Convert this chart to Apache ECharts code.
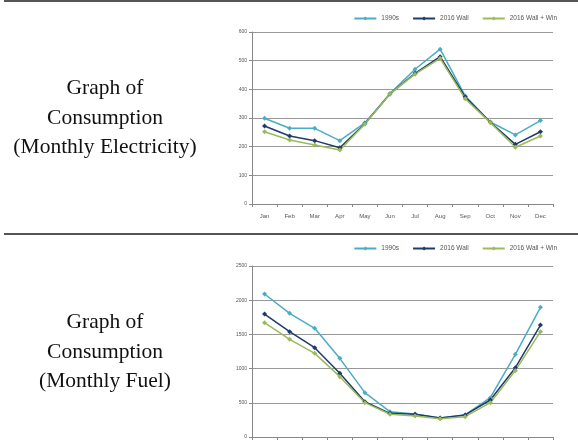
<!DOCTYPE html>
<html>
<head>
<meta charset="utf-8">
<script src="https://cdn.jsdelivr.net/npm/echarts@6/dist/echarts.min.js"></script>
<style>
  html, body { margin: 0; padding: 0; background: #fff; }
  #chart { width: 578px; height: 445px; }
</style>
</head>
<body>
<div id="chart"></div>
<script>
const months = ['Jan', 'Feb', 'Mar', 'Apr', 'May', 'Jun', 'Jul', 'Aug', 'Sep', 'Oct', 'Nov', 'Dec']
const seriesNames = ['1990s', '2016 Wall', '2016 Wall + Win']

// monthly electricity
const elec1990s = [299, 264, 264, 221, 283, 385, 470, 540, 377, 286, 241, 291]
const elecWall = [272, 237, 221, 196, 280, 384, 456, 514, 374, 285, 208, 252]
const elecWallWin = [252, 223, 206, 188, 279, 384, 453, 508, 367, 284, 198, 237]

// monthly fuel
const fuel1990s = [2091, 1808, 1589, 1150, 648, 370, 336, 278, 322, 575, 1209, 1896]
const fuelWall = [1798, 1540, 1306, 931, 516, 346, 332, 278, 322, 541, 1013, 1637]
const fuelWallWin = [1671, 1428, 1223, 882, 502, 332, 307, 268, 297, 502, 970, 1540]

const colors = ['#4bacc6', '#1f3a6b', '#9bbb59']

const chart = echarts.init(document.getElementById('chart'))

const xAxisBase = (gridIndex) => ({
  type: 'category',
  gridIndex: gridIndex,
  data: months,
  boundaryGap: true,
  axisLine: { lineStyle: { color: '#888', width: 1 } },
  axisTick: { show: true, length: 3, lineStyle: { color: '#888' } },
  axisLabel: { fontSize: 6, color: '#555', margin: 9, fontFamily: 'Liberation Sans' }
})

const yAxisBase = (gridIndex, max, interval) => ({
  type: 'value',
  gridIndex: gridIndex,
  min: 0,
  max: max,
  interval: interval,
  axisLine: { show: true, lineStyle: { color: '#888', width: 1 } },
  axisTick: { show: true, length: 3, lineStyle: { color: '#888' } },
  splitLine: { lineStyle: { color: '#999', width: 1 } },
  axisLabel: { fontSize: 5, color: '#555', margin: 5, fontFamily: 'Liberation Sans', formatter: (v) => String(v) }
})

const lineSeries = (name, data, i, gridIndex) => ({
  name: name,
  type: 'line',
  xAxisIndex: gridIndex,
  yAxisIndex: gridIndex,
  data: data,
  symbol: 'diamond',
  symbolSize: 5,
  lineStyle: { color: colors[i], width: 1.5 },
  itemStyle: { color: colors[i] },
  animation: false
})

const legendBase = (top) => ({
  top: top,
  right: 16,
  itemWidth: 22,
  itemHeight: 5,
  itemGap: 13,
  data: seriesNames,
  textStyle: { fontSize: 6.5, color: '#555', fontFamily: 'Liberation Sans' }
})

const labelText = (x, y, text) => ({
  type: 'text',
  x: x,
  y: y,
  style: {
    text: text,
    font: '21.5px "Liberation Serif"',
    fill: '#111',
    textAlign: 'center',
    textVerticalAlign: 'middle'
  }
})

chart.setOption({
  animation: false,
  grid: [
    { left: 252, right: 25, top: 32, bottom: 241, outerBoundsMode: 'none' },
    { left: 252, right: 25, top: 266, bottom: 8, outerBoundsMode: 'none' }
  ],
  legend: [legendBase(10), legendBase(240)],
  xAxis: [xAxisBase(0), xAxisBase(1)],
  yAxis: [yAxisBase(0, 600, 100), yAxisBase(1, 2500, 500)],
  series: [
    lineSeries(seriesNames[0], elec1990s, 0, 0),
    lineSeries(seriesNames[1], elecWall, 1, 0),
    lineSeries(seriesNames[2], elecWallWin, 2, 0),
    lineSeries(seriesNames[0], fuel1990s, 0, 1),
    lineSeries(seriesNames[1], fuelWall, 1, 1),
    lineSeries(seriesNames[2], fuelWallWin, 2, 1)
  ],
  graphic: [
    { type: 'line', shape: { x1: 4, y1: 1, x2: 578, y2: 1 }, style: { stroke: '#555', lineWidth: 2 } },
    { type: 'line', shape: { x1: 4, y1: 234, x2: 578, y2: 234 }, style: { stroke: '#555', lineWidth: 2 } },
    labelText(105, 88, 'Graph of'),
    labelText(105, 118, 'Consumption'),
    labelText(105, 147, '(Monthly Electricity)'),
    labelText(105, 322, 'Graph of'),
    labelText(105, 352, 'Consumption'),
    labelText(105, 381, '(Monthly Fuel)')
  ]
})
</script>
</body>
</html>
